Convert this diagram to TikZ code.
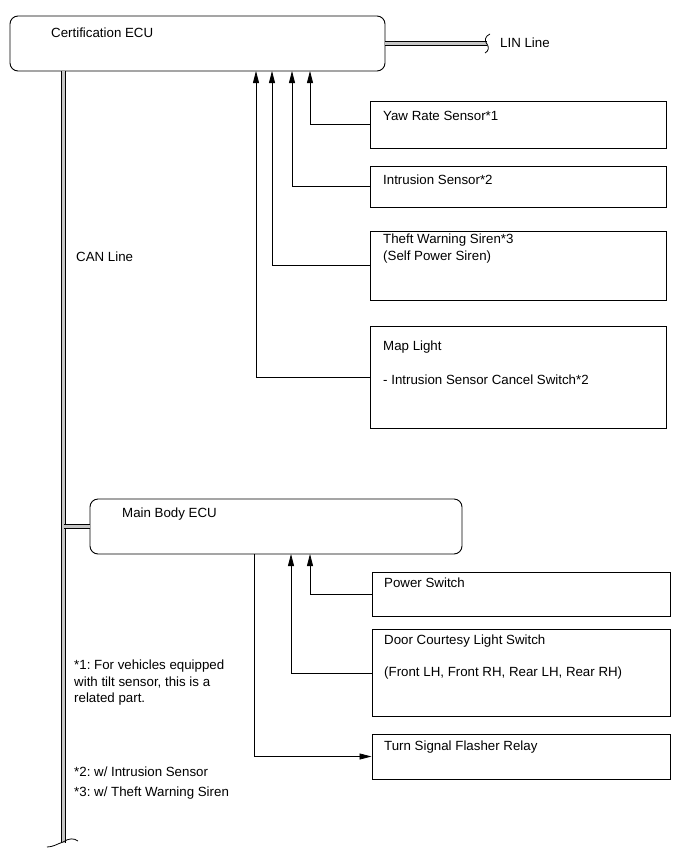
\documentclass[tikz,border=0pt]{standalone}
\usepackage{fontspec}
\setmainfont{Liberation Sans}
\usetikzlibrary{arrows.meta}
\frenchspacing
\begin{document}
\begin{tikzpicture}[x=1pt,y=-1pt,
  ecu/.style={draw,rounded corners=8pt,line width=0.9pt,inner sep=0pt},
  part/.style={draw,line width=0.9pt,inner sep=0pt},
  txt/.style={anchor=west,inner sep=0pt,font=\fontsize{13.3}{15}\selectfont},
  arr/.style={line width=0.8pt,-{Triangle[length=12pt,width=6pt]}},
  bus/.style={line width=0.7pt,double=gray!45,double distance=3.2pt},
  brk/.style={line width=0.8pt}]
\useasboundingbox (0,0) rectangle (691,854);
% ECUs
\node[ecu,minimum width=375pt,minimum height=55pt] (cert) at (197.5,43.5) {};
\node[txt] (certT) at (51,33) {Certification ECU};
\node[ecu,minimum width=372pt,minimum height=55pt] (mb) at (276,526.5) {};
\node[txt] (mbT) at (122,514) {Main Body ECU};
% parts
\node[part,minimum width=296pt,minimum height=47pt] (yaw) at (518,124.5) {};
\node[txt] at (383,116) {Yaw Rate Sensor*1};
\node[part,minimum width=296pt,minimum height=41pt] (intr) at (518,186.5) {};
\node[txt] at (383,180) {Intrusion Sensor*2};
\node[part,minimum width=296pt,minimum height=69pt] (siren) at (518,265.5) {};
\node[txt] at (383,240) {Theft Warning Siren*3};
\node[txt] at (383,257) {(Self Power Siren)};
\node[part,minimum width=296pt,minimum height=102pt] (map) at (518,377) {};
\node[txt] at (383,347) {Map Light};
\node[txt] at (383,380) {- Intrusion Sensor Cancel Switch*2};
\node[part,minimum width=298pt,minimum height=44pt] (pw) at (521,594) {};
\node[txt] at (384,583) {Power Switch};
\node[part,minimum width=298pt,minimum height=87pt] (door) at (521,673) {};
\node[txt] at (384,641) {Door Courtesy Light Switch};
\node[txt] at (384,673) {(Front LH, Front RH, Rear LH, Rear RH)};
\node[part,minimum width=298pt,minimum height=45pt] (turn) at (521,756.5) {};
\node[txt] at (384,747) {Turn Signal Flasher Relay};
% labels
\node[txt] at (500,43) {LIN Line};
\node[txt] at (76,257) {CAN Line};
\node[txt] at (74,666) {*1: For vehicles equipped};
\node[txt] at (74,682.5) {with tilt sensor, this is a};
\node[txt] at (74,699) {related part.};
\node[txt] at (74,772) {*2: w/ Intrusion Sensor};
\node[txt] at (74,793) {*3: w/ Theft Warning Siren};
% coordinates
\coordinate (a1) at (310,71);
\coordinate (a2) at (292,71);
\coordinate (a3) at (272,71);
\coordinate (a4) at (256,71);
\coordinate (b1) at (310,554);
\coordinate (b2) at (291,554);
\coordinate (b3) at (254,554);
\coordinate (linEnd) at (487,43.5);
\coordinate (canTop) at (63.5,71);
\coordinate (canBot) at (63.5,843);
\coordinate (canJ) at (63.5,526.5);
% connectors
\draw[arr] (yaw.west) -| (a1);
\draw[arr] (intr.west) -| (a2);
\draw[arr] (siren.west) -| (a3);
\draw[arr] (map.west) -| (a4);
\draw[arr] (pw.west) -| (b1);
\draw[arr] (door.west) -| (b2);
\draw[arr] (b3) |- (turn.west);
% buses
\draw[bus] (cert.east) -- (linEnd);
\draw[bus] (canTop) -- (canBot);
\draw[bus] (canJ) -- (mb.west);
% breaks
\draw[brk] (490,34) .. controls (485,36) and (484,41) .. (487,44) .. controls (489,47) and (489,51) .. (485,53);
\draw[brk] (47,847) .. controls (53,847) and (57,844) .. (63,842) .. controls (69,838) and (74,838) .. (78,841);
\end{tikzpicture}
\end{document}
